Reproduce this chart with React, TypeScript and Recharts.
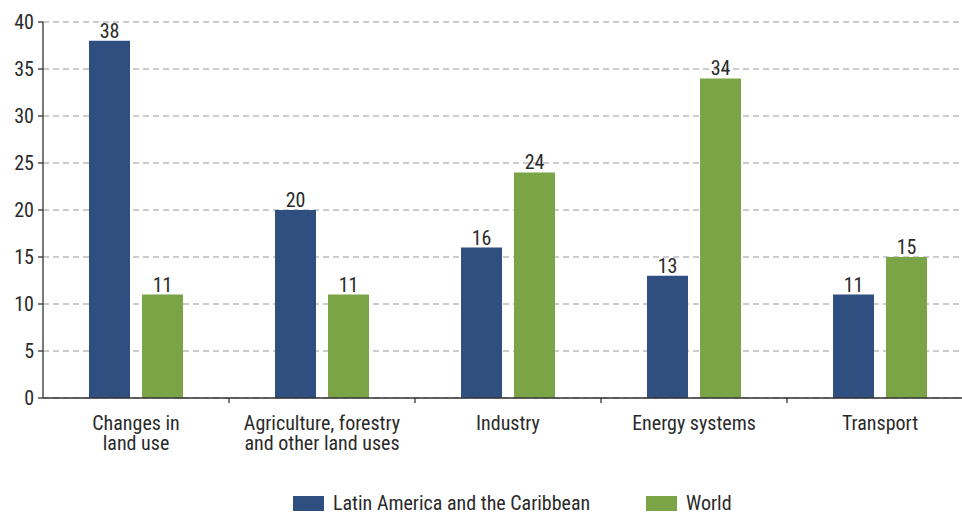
import React from "react";
import { BarChart, Bar, XAxis, YAxis, CartesianGrid, LabelList } from "recharts";

const categories = ["Changes in\nland use", "Agriculture, forestry\nand other land uses", "Industry", "Energy systems", "Transport"];
const lacValues = [38, 20, 16, 13, 11];
const worldValues = [11, 11, 24, 34, 15];
const yTicks = [0, 5, 10, 15, 20, 25, 30, 35, 40];
const seriesNames = ["Latin America and the Caribbean", "World"];
const seriesColors = ["#2f4f80", "#7ba446"];

const data = categories.map((c, i) => ({ name: c, lac: lacValues[i], world: worldValues[i] }));

const FONT = "'Roboto Condensed', 'Liberation Sans Narrow', 'DejaVu Sans Condensed', 'Arial Narrow', Roboto, sans-serif";
const TEXT = "#2a2a2a";
const FS = 20;

const XTick = (props: any) => {
  const { x, y, payload, index } = props;
  const lines = String(payload.value).split("\n");
  const half = 93;
  return (
    <g>
      {index < categories.length - 1 && (
        <line x1={x + half} x2={x + half} y1={y - 8} y2={y - 3} stroke="#333" strokeWidth={1.3} />
      )}
      <text x={x} y={y} textAnchor="middle" fontFamily={FONT} fontSize={FS} fill={TEXT}>
        {lines.map((l, i) => (
          <tspan key={i} x={x} dy={i === 0 ? 24 : 20}>{l}</tspan>
        ))}
      </text>
    </g>
  );
};

export default function App() {
  return (
    <div style={{ position: "fixed", left: 0, top: 0, width: 962, height: 513, overflow: "hidden", background: "#fff" }}>
      <BarChart
        width={973}
        height={513}
        data={data}
        margin={{ top: 22, right: 0, bottom: 0, left: 0 }}
        barSize={41}
        barGap={12}
      >
        <CartesianGrid vertical={false} stroke="#999" strokeDasharray="6 4" />
        <XAxis
          dataKey="name"
          height={115}
          axisLine={{ stroke: "#333", strokeWidth: 1.3 }}
          tickLine={false}
          tick={<XTick />}
          interval={0}
        />
        <YAxis
          width={43}
          domain={[0, 40]}
          ticks={yTicks}
          interval={0}
          axisLine={{ stroke: "#333", strokeWidth: 1.3 }}
          tickLine={{ stroke: "#333", strokeWidth: 1.3 }}
          tickSize={5}
          tickMargin={4}
          tick={{ fontFamily: FONT, fontSize: FS, fill: TEXT }}
        />
        <Bar dataKey="lac" fill={seriesColors[0]} isAnimationActive={false}>
          <LabelList dataKey="lac" position="top" offset={3} style={{ fontFamily: FONT, fontSize: FS, fill: TEXT }} />
        </Bar>
        <Bar dataKey="world" fill={seriesColors[1]} isAnimationActive={false}>
          <LabelList dataKey="world" position="top" offset={3} style={{ fontFamily: FONT, fontSize: FS, fill: TEXT }} />
        </Bar>
      </BarChart>
      <svg style={{ position: "absolute", left: 0, top: 0 }} width={962} height={513} pointerEvents="none">
        {seriesNames.map((n, i) => {
          const x0 = i === 0 ? 293 : 646;
          return (
            <g key={n}>
              <rect x={x0} y={496} width={31} height={15} fill={seriesColors[i]} />
              <text x={x0 + 40} y={510} fontFamily={FONT} fontSize={FS} fill={TEXT}>{n}</text>
            </g>
          );
        })}
      </svg>
    </div>
  );
}
